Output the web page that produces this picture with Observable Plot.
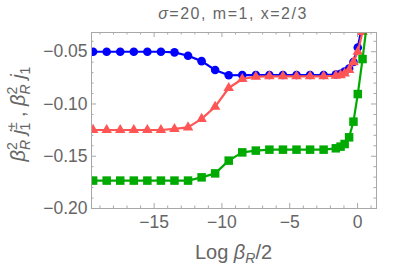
<!DOCTYPE html>
<html><head><meta charset="utf-8">
<script src="https://cdn.jsdelivr.net/npm/d3@7"></script>
<script src="https://cdn.jsdelivr.net/npm/@observablehq/plot@0.6"></script>
<style>body{margin:0;background:#fff} svg{display:block}</style>
</head><body><div id="chart"></div>
<script>
const xs = [-19.5,-18.5,-17.5,-16.5,-15.5,-14.5,-13.5,-12.5,-11.5,-10.5,-9.5,-8.5,-7.5,-6.5,-5.5,-4.5,-3.5,-2.5,-1.6,-1.25,-0.95,-0.62,-0.3,0.02,0.37,0.7];
const blueVals = [-0.05,-0.05,-0.05,-0.05,-0.05,-0.05,-0.0506,-0.0538,-0.0590,-0.0675,-0.0725,-0.0723,-0.0723,-0.0723,-0.0723,-0.0723,-0.0723,-0.0723,-0.0718,-0.0710,-0.0690,-0.0662,-0.0598,-0.0460,-0.0230,0.0];
const redVals = [-0.1249,-0.1249,-0.1249,-0.1249,-0.1249,-0.1249,-0.1239,-0.1224,-0.1143,-0.1026,-0.0847,-0.0761,-0.0739,-0.0735,-0.0735,-0.0735,-0.0735,-0.0735,-0.0730,-0.0724,-0.0708,-0.0675,-0.0600,-0.0500,-0.0310,-0.0050];
const greenVals = [-0.1733,-0.1733,-0.1733,-0.1733,-0.1733,-0.1733,-0.1733,-0.1733,-0.1702,-0.1664,-0.1542,-0.1463,-0.1446,-0.1437,-0.1437,-0.1437,-0.1437,-0.1437,-0.1424,-0.1408,-0.1383,-0.1319,-0.1169,-0.0905,-0.0570,-0.0220];
const xMajor = [-15,-10,-5,0];
const xMinor = [-19,-18,-17,-16,-14,-13,-12,-11,-9,-8,-7,-6,-4,-3,-2,-1,1];
const yMajor = [-0.20,-0.15,-0.10,-0.05];
const yMinor = [-0.19,-0.18,-0.17,-0.16,-0.14,-0.13,-0.12,-0.11,-0.09,-0.08,-0.07,-0.06,-0.04];
const titleParts = ["σ", "=20, m=1, x=2/3"];

const W = 409, H = 266, mL = 91, mR = 33, mT = 32, mB = 58;
const fw = W - mL - mR, fh = H - mT - mB;
const frameCol = "#a8a8a8";
const series = [
  {vals: blueVals, color: "#0000ff", symbol: "circle", r: 4.3},
  {vals: redVals, color: "#ff5555", symbol: "triangle", r: 3.9},
  {vals: greenVals, color: "#00aa00", symbol: "square", r: 4.8}
];
const marks = [];
for (const s of series) {
  const data = xs.map((x, i) => ({x, y: s.vals[i]}));
  marks.push(Plot.line(data, {x: "x", y: "y", stroke: s.color, strokeWidth: 2.2, clip: true}));
  marks.push(Plot.dot(data, {x: "x", y: "y", fill: s.color, symbol: s.symbol, r: s.r, clip: true}));
}
const chart = Plot.plot({
  width: W, height: H,
  marginLeft: mL, marginRight: mR, marginTop: mT, marginBottom: mB,
  style: {fontFamily: "'Liberation Sans', Arial, sans-serif", fontSize: "17px", color: "#666", background: "#fff"},
  x: {domain: [-19.62, 1.4]},
  y: {domain: [-0.2, -0.0316]},
  marks: [
    Plot.tickX(xMajor, {x: d => d, insetTop: fh - 5, stroke: frameCol}),
    Plot.tickX(xMajor, {x: d => d, insetBottom: fh - 5, stroke: frameCol}),
    Plot.tickX(xMinor, {x: d => d, insetTop: fh - 2.5, stroke: frameCol}),
    Plot.tickX(xMinor, {x: d => d, insetBottom: fh - 2.5, stroke: frameCol}),
    Plot.tickY(yMajor, {y: d => d, insetRight: fw - 5, stroke: frameCol}),
    Plot.tickY(yMajor, {y: d => d, insetLeft: fw - 5, stroke: frameCol}),
    Plot.tickY(yMinor, {y: d => d, insetRight: fw - 2.5, stroke: frameCol}),
    Plot.tickY(yMinor, {y: d => d, insetLeft: fw - 2.5, stroke: frameCol}),
    ...marks,
    Plot.frame({stroke: frameCol}),
    Plot.axisX(xMajor, {tickSize: 0, tickPadding: 7, label: null, fontSize: 17.5}),
    Plot.axisY(yMajor, {tickSize: 0, tickPadding: 4, label: null, fontSize: 17.5, tickFormat: d3.format(".2f")})
  ]
});
document.getElementById("chart").appendChild(chart);
const svg = d3.select(chart);
// title
const t = svg.append("text").attr("x", 233).attr("y", 18.5).attr("text-anchor", "middle")
  .attr("font-size", 16).attr("letter-spacing", 1.5).attr("fill", "#666");
t.append("tspan").attr("font-style", "italic").text(titleParts[0]);
t.append("tspan").text(titleParts[1]);
// x label
const xl = svg.append("text").attr("x", 233.5).attr("y", 259).attr("text-anchor", "middle")
  .attr("font-size", 20).attr("fill", "#666");
xl.append("tspan").text("Log ");
xl.append("tspan").attr("font-style", "italic").text("β");
xl.append("tspan").attr("font-style", "italic").attr("font-size", 14).attr("dy", 4).text("R");
xl.append("tspan").attr("dy", -4).text("/2");
// y label
const yl = svg.append("text").attr("transform", "translate(25,114) rotate(-90)").attr("text-anchor", "middle")
  .attr("font-size", 20).attr("fill", "#666");
function betaR2(el) {
  el.append("tspan").attr("font-style", "italic").text("β");
  el.append("tspan").attr("font-size", 14).attr("dy", -8).text("2");
  el.append("tspan").attr("font-style", "italic").attr("font-size", 14).attr("dx", -7.8).attr("dy", 13).text("R");
}
betaR2(yl);
yl.append("tspan").attr("font-style", "italic").attr("dy", -5).text(" j");
yl.append("tspan").attr("font-size", 14).attr("dy", -8).text("±");
yl.append("tspan").attr("font-size", 14).attr("dx", -8.2).attr("dy", 13).text("1");
yl.append("tspan").attr("dy", -5).text(" , ");
betaR2(yl);
yl.append("tspan").attr("font-style", "italic").attr("dy", -5).text(" j");
yl.append("tspan").attr("font-size", 14).attr("dy", 5).text("1");
</script></body></html>
